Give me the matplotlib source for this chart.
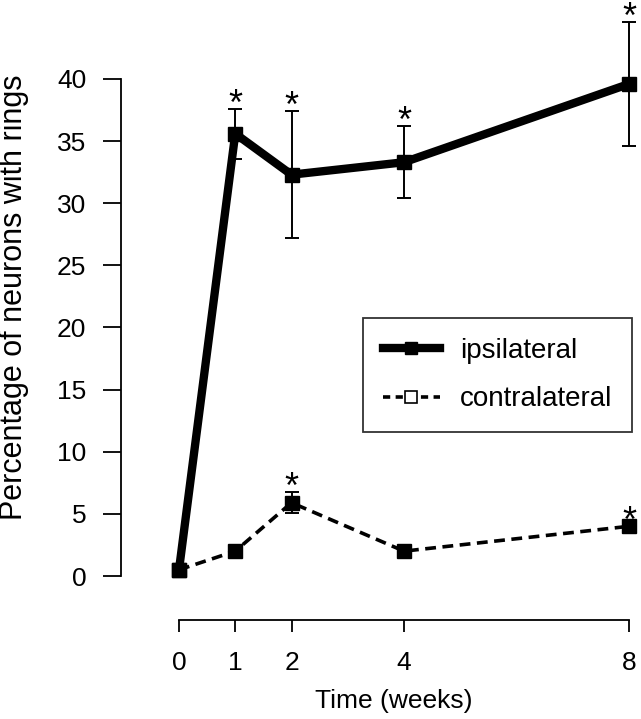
import matplotlib
matplotlib.use("Agg")
import matplotlib.pyplot as plt
from matplotlib.lines import Line2D

plt.rcParams['font.family'] = ['Liberation Sans', 'DejaVu Sans']

weeks = [0, 1, 2, 4, 8]
ipsi = [0.5, 35.6, 32.3, 33.3, 39.6]
ipsi_err = [0, 2.0, 5.1, 2.9, 5.0]
ipsi_sig = [False, True, True, True, True]
contra = [0.5, 2.0, 5.9, 2.0, 4.0]
contra_err = [0, 0, 0.85, 0, 0]
contra_sig = [False, False, True, False, True]

W, H = 641, 719
fig = plt.figure(figsize=(W / 100, H / 100), dpi=100)

# axes box in pixels: x 0..8 -> 179..629, y 0..40 -> 576..79
xlim = (-0.5, 8.15)
ylim = (-0.5, 46)
xs = (629 - 179) / 8
ys = (576 - 79) / 40
left = 179 + xlim[0] * xs
right = 179 + xlim[1] * xs
bottom = 576 - ylim[0] * ys
top = 576 - ylim[1] * ys
ax = fig.add_axes([left / W, 1 - bottom / H, (right - left) / W, (bottom - top) / H])
ax.set_xlim(*xlim)
ax.set_ylim(*ylim)

ax.errorbar(weeks, ipsi, yerr=ipsi_err, color='black', lw=6, marker='s', ms=9.5,
            ecolor='black', elinewidth=1.4, capsize=5, capthick=1.4, zorder=3)
ax.errorbar(weeks, contra, yerr=contra_err, color='black', lw=2.6, ls=(0, (3, 1.8)),
            marker='s', ms=10, ecolor='black', elinewidth=1.4, capsize=5, capthick=1.4,
            zorder=3)

for x, y, e, s in zip(weeks, ipsi, ipsi_err, ipsi_sig):
    if s:
        ax.annotate('*', (x, y + e), xytext=(0, 2.5), textcoords='offset points',
                    ha='center', va='center', fontsize=26)
for x, y, e, s in zip(weeks, contra, contra_err, contra_sig):
    if s:
        ax.annotate('*', (x, y + e), xytext=(0, 2.5), textcoords='offset points',
                    ha='center', va='center', fontsize=26)

for side in ['top', 'right']:
    ax.spines[side].set_visible(False)
ax.spines['left'].set_position(('outward', 21.6))
ax.spines['bottom'].set_position(('outward', 27.2))
ax.spines['left'].set_bounds(0, 40)
ax.spines['bottom'].set_bounds(0, 8)
for side in ['left', 'bottom']:
    ax.spines[side].set_linewidth(1.3)

ax.set_yticks(range(0, 41, 5))
ax.set_xticks(weeks)
ax.tick_params(axis='y', length=13, width=1.3, pad=12, labelsize=19)
ax.tick_params(axis='x', length=8.6, width=1.3, pad=14, labelsize=19)

ax.set_xlabel('Time (weeks)', fontsize=19, labelpad=10)
ax.set_ylabel('Percentage of neurons with rings', fontsize=22)
ax.yaxis.set_label_coords((29 - left) / (right - left), 1 - (297 - top) / (bottom - top))

handles = [
    Line2D([], [], color='black', lw=6, marker='s', ms=9),
    Line2D([], [], color='black', lw=2.6, ls=(0, (2, 1.5)), marker='s', ms=9,
           markerfacecolor='white', markeredgewidth=1.2),
]
leg = ax.legend(handles, ['ipsilateral', 'contralateral'], loc='upper left',
                bbox_to_anchor=((363 - left) / (right - left), 1 - (318 - top) / (bottom - top)),
                fontsize=20, frameon=True, fancybox=False, edgecolor='black',
                handlelength=2.05, borderpad=0.72, labelspacing=0.8, handletextpad=0.72,
                borderaxespad=0)
leg.get_frame().set_linewidth(1.3)

fig.savefig('out.png', dpi=100)
